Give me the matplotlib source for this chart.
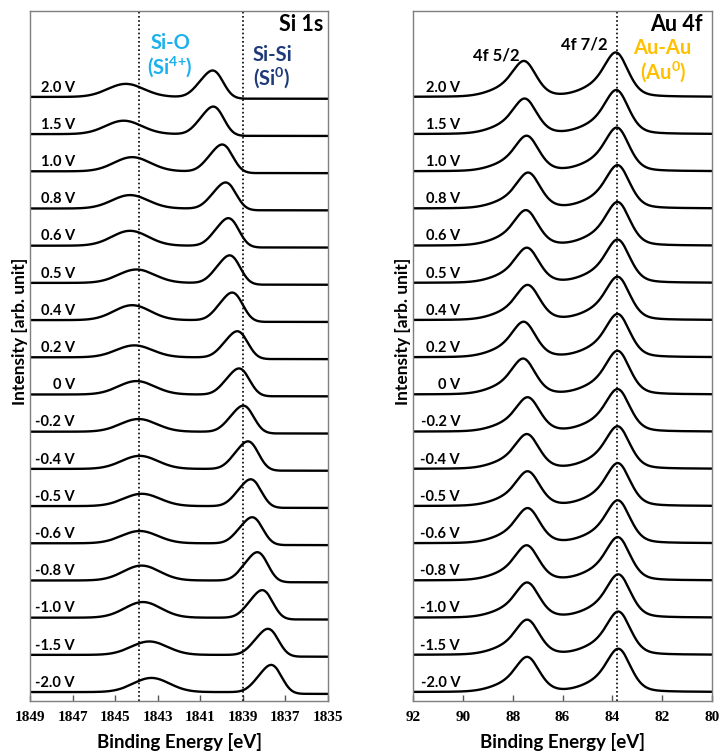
# -*- coding: utf-8 -*-
"""Stacked Si 1s / Au 4f XPS spectra under applied bias."""

import matplotlib

matplotlib.use("Agg")
import matplotlib.pyplot as plt
import numpy as np

plt.rcParams["font.family"] = ["Lato", "DejaVu Sans"]
plt.rcParams["mathtext.fontset"] = "custom"
plt.rcParams["mathtext.rm"] = "Lato"
plt.rcParams["mathtext.bf"] = "Lato:bold"

VOLTAGES = ["2.0 V", "1.5 V", "1.0 V", "0.8 V", "0.6 V", "0.5 V", "0.4 V", "0.2 V", "0 V",
            "-0.2 V", "-0.4 V", "-0.5 V", "-0.6 V", "-0.8 V", "-1.0 V", "-1.5 V", "-2.0 V"]

# Si 1s: Si-Si (Si0) and Si-O (Si4+) peak positions [eV] and heights [trace spacing]
SI_SI_POS = [1840.30, 1840.27, 1839.85, 1839.69, 1839.56, 1839.50, 1839.38, 1839.14, 1839.06,
             1838.86, 1838.64, 1838.51, 1838.44, 1838.20, 1837.97, 1837.70, 1837.55]
SI_SI_HEIGHT = [0.73, 0.76, 0.74, 0.72, 0.76, 0.76, 0.76, 0.72, 0.72,
                0.72, 0.76, 0.74, 0.72, 0.78, 0.76, 0.72, 0.75]
SI_O_POS = [1844.50, 1844.60, 1844.20, 1844.30, 1844.30, 1844.00, 1844.20, 1844.10, 1844.00,
            1843.90, 1843.85, 1843.75, 1843.85, 1843.76, 1843.70, 1843.40, 1843.30]
SI_O_HEIGHT = [0.35, 0.36, 0.38, 0.36, 0.40, 0.36, 0.40, 0.32, 0.36,
               0.34, 0.35, 0.33, 0.33, 0.40, 0.42, 0.36, 0.38]
SI_STEP = 0.05

# Au 4f: 4f 7/2 and 4f 5/2 peak positions [eV] and heights [trace spacing]
AU_72_POS = [83.82, 83.80, 83.78, 83.75, 83.75, 83.75, 83.75, 83.75, 83.75,
             83.75, 83.75, 83.74, 83.74, 83.74, 83.72, 83.72, 83.72]
AU_72_HEIGHT = [1.19, 1.18, 1.17, 1.16, 1.17, 1.16, 1.16, 1.16, 1.17,
                1.14, 1.14, 1.15, 1.15, 1.16, 1.16, 1.16, 1.16]
AU_52_POS = [87.51, 87.48, 87.40, 87.34, 87.43, 87.39, 87.36, 87.52, 87.54,
             87.36, 87.39, 87.36, 87.36, 87.40, 87.38, 87.38, 87.38]
AU_52_HEIGHT = [0.96, 0.95, 0.95, 0.96, 0.95, 0.94, 0.94, 0.95, 0.96,
                0.92, 0.93, 0.93, 0.94, 0.94, 0.94, 0.94, 0.94]

SI_TICKS = [1849, 1847, 1845, 1843, 1841, 1839, 1837, 1835]
AU_TICKS = [92, 90, 88, 86, 84, 82, 80]
SI_MARKERS = [1843.9, 1839.0]
AU_MARKERS = [83.8]

SI_O_COLOR = "#1BB1EC"
SI_SI_COLOR = "#1F3A7A"
AU_COLOR = "#FFC000"


def gauss(x, c, s):
    return np.exp(-0.5 * ((x - c) / s) ** 2)


def lorentz(x, c, g):
    return 1.0 / (1.0 + ((x - c) / g) ** 2)


def si_spectrum(x, i):
    metal = gauss(x, SI_SI_POS[i], 0.42) + 0.45 * gauss(x, SI_SI_POS[i] + 0.65, 0.42)
    metal = metal / metal.max() * SI_SI_HEIGHT[i]
    oxide = gauss(x, SI_O_POS[i], 0.85) * SI_O_HEIGHT[i]
    step = SI_STEP / (1 + np.exp(-(x - SI_SI_POS[i]) / 0.3)) - SI_STEP
    return metal + oxide + step


def au_peak(x, c):
    y = 0.7 * gauss(x, c, 0.46) + 0.3 * lorentz(x, c, 0.55) + 0.3 * gauss(x, c + 0.6, 0.75)
    return y / y.max()


def au_spectrum(x, i):
    return (au_peak(x, AU_72_POS[i]) * AU_72_HEIGHT[i]
            + au_peak(x, AU_52_POS[i]) * AU_52_HEIGHT[i])


def style_axes(ax, xlim, ticks):
    ax.set_xlim(*xlim)
    ax.set_ylim(-0.24, 18.31)
    ax.set_xticks(ticks)
    ax.set_yticks([])
    ax.tick_params(axis="x", direction="in", length=4, width=1, color="#555555", pad=7)
    for label in ax.get_xticklabels():
        label.set_fontfamily("Liberation Serif")
        label.set_fontweight("bold")
        label.set_fontsize(11)
    for spine in ax.spines.values():
        spine.set_color("#7F7F7F")
        spine.set_linewidth(1.0)
    ax.set_xlabel("Binding Energy [eV]", fontsize=13.5, fontweight="bold")
    ax.xaxis.label.set_va("center")
    ax.xaxis.set_label_coords(0.5, -0.060)
    ax.set_ylabel("Intensity [arb. unit]", fontsize=12.5, fontweight="bold")
    ax.yaxis.label.set_va("center")
    ax.yaxis.set_label_coords(-0.033, 0.536)


def draw_stack(ax, x, spectrum, label_x):
    n = len(VOLTAGES)
    for i, volt in enumerate(VOLTAGES):
        offset = n - 1 - i
        ax.plot(x, offset + spectrum(x, i), color="black", lw=1.7)
        ax.text(label_x, offset + 0.14, volt, ha="right", va="baseline",
                fontsize=10.5, fontweight="bold")


fig = plt.figure(figsize=(7.2, 7.51), dpi=100)
ax_si = fig.add_axes([0.0417, 0.0666, 0.4139, 0.9188])
ax_au = fig.add_axes([0.5736, 0.0666, 0.4153, 0.9188])

x_si = np.linspace(1835, 1849, 700)
draw_stack(ax_si, x_si, si_spectrum, 1846.89)
for e in SI_MARKERS:
    ax_si.axvline(e, color="black", lw=1.2, ls=(0, (1, 1.5)))
style_axes(ax_si, (1849, 1835), SI_TICKS)
ax_si.text(0.983, 0.980, "Si 1s", transform=ax_si.transAxes, ha="right", va="center",
           fontsize=15.5, fontweight="bold")
ax_si.text(0.470, 0.954, "Si-O", transform=ax_si.transAxes, ha="center", va="center",
           fontsize=14.5, fontweight="bold", color=SI_O_COLOR)
ax_si.text(0.470, 0.919, r"(Si$^{\mathbf{4{+}}}$)", transform=ax_si.transAxes, ha="center",
           va="center", fontsize=14.5, fontweight="bold", color=SI_O_COLOR)
ax_si.text(0.812, 0.936, "Si-Si", transform=ax_si.transAxes, ha="center", va="center",
           fontsize=14.5, fontweight="bold", color=SI_SI_COLOR)
ax_si.text(0.812, 0.903, r"(Si$^{\mathbf{0}}$)", transform=ax_si.transAxes, ha="center",
           va="center", fontsize=14.5, fontweight="bold", color=SI_SI_COLOR)

x_au = np.linspace(80, 92, 700)
draw_stack(ax_au, x_au, au_spectrum, 90.11)
for e in AU_MARKERS:
    ax_au.axvline(e, color="black", lw=1.2, ls=(0, (1, 1.5)))
style_axes(ax_au, (92, 80), AU_TICKS)
ax_au.text(0.967, 0.980, "Au 4f", transform=ax_au.transAxes, ha="right", va="center",
           fontsize=15.5, fontweight="bold")
ax_au.text(0.278, 0.936, "4f 5/2", transform=ax_au.transAxes, ha="center", va="center",
           fontsize=12, fontweight="bold")
ax_au.text(0.572, 0.951, "4f 7/2", transform=ax_au.transAxes, ha="center", va="center",
           fontsize=12, fontweight="bold")
ax_au.text(0.833, 0.946, "Au-Au", transform=ax_au.transAxes, ha="center", va="center",
           fontsize=14.5, fontweight="bold", color=AU_COLOR)
ax_au.text(0.836, 0.912, r"(Au$^{\mathbf{0}}$)", transform=ax_au.transAxes, ha="center",
           va="center", fontsize=14.5, fontweight="bold", color=AU_COLOR)

fig.savefig("out.png", dpi=100)
plt.close(fig)
